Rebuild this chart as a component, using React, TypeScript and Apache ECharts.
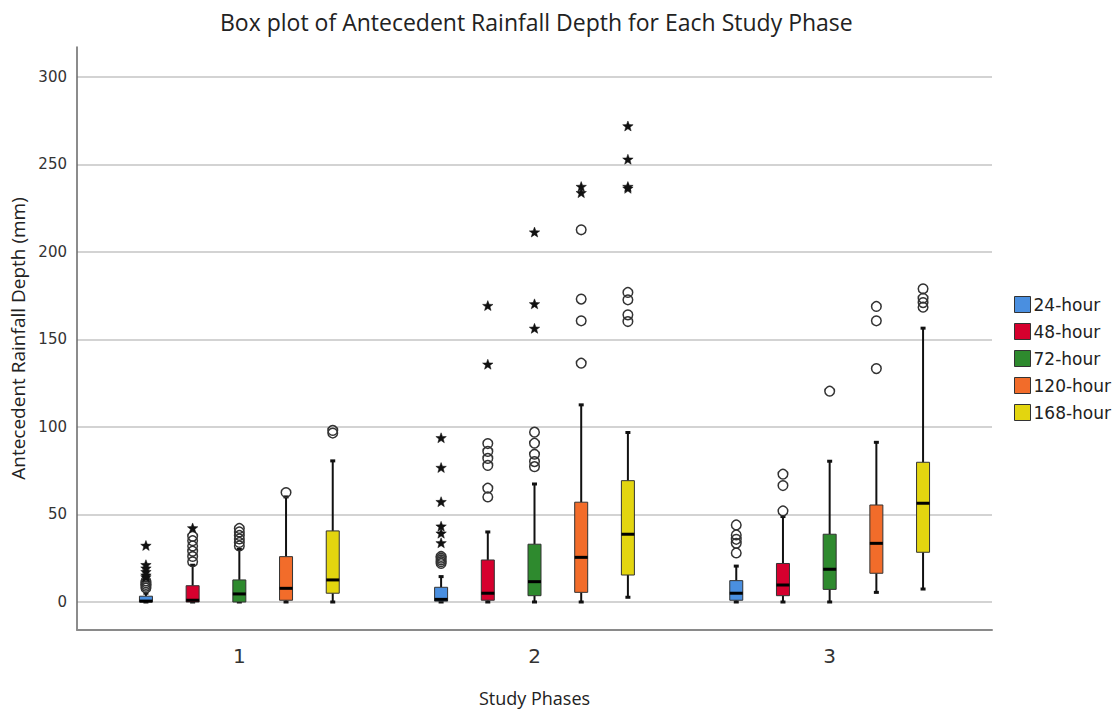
import React, { useEffect, useRef } from 'react';
import * as echarts from 'echarts';

const phases = [1, 2, 3];
const durations = ['24-hour', '48-hour', '72-hour', '120-hour', '168-hour'];
const colors = ['#4a8fe0', '#d6002e', '#2e8a2e', '#f26c2a', '#e3d50f'];

// [min, Q1, median, Q3, max] for phases 1, 2, 3
const box24 = [[0, 0, 0.5, 3.3, 5], [0, 0.5, 1.5, 8.4, 14.5], [0, 1, 5, 12.2, 20.5]];
const box48 = [[0, 0, 1, 9.3, 21], [0, 1, 5, 24, 40], [0, 3.6, 9.7, 22, 48.8]];
const box72 = [[0, 0, 4.6, 12.6, 30], [0, 3.6, 11.6, 33, 67.4], [0, 7.2, 18.7, 38.7, 80.4]];
const box120 = [[0, 1, 7.8, 25.9, 60], [0, 5.5, 25.5, 57, 112.6], [5.5, 16.4, 33.5, 55.4, 91.2]];
const box168 = [[0, 5, 12.6, 40.6, 80.6], [2.7, 15.4, 38.7, 69.3, 96.8], [7.4, 28.4, 56.4, 79.8, 156.4]];

// outliers (circles) per phase
const circles24 = [[8, 9, 10, 11, 12], [22, 23, 24, 25, 26], [28, 33.5, 35.8, 38.3, 44]];
const circles48 = [[23, 26, 29, 32, 35, 37.5], [60, 65, 78, 82, 86, 90.5], [52, 66.5, 73]];
const circles72 = [[32, 34, 36, 38, 40, 42], [77.3, 80.2, 84.4, 90.7, 97], [120.4]];
const circles120 = [[62.5], [136.4, 160.6, 173, 212.6], [133.3, 160.6, 168.8]];
const circles168 = [[96.5, 98], [160.2, 164, 172.6, 176.8], [168.4, 171, 173.5, 178.9]];

// extreme values (stars) per phase
const stars24 = [[14, 15, 17, 19, 21, 32], [33.5, 39, 43, 57, 76.5, 93.5], []];
const stars48 = [[42], [135.5, 169], []];
const stars72 = [[], [156, 170, 211], []];
const stars120 = [[], [233.5, 237], []];
const stars168 = [[], [236, 237, 252.6, 271.6], []];

const boxes = [box24, box48, box72, box120, box168];
const circles = [circles24, circles48, circles72, circles120, circles168];
const stars = [stars24, stars48, stars72, stars120, stars168];

const BOX_W = 13;
const SPACING = 46.7;

function starPoints(cx: number, cy: number, R: number, r: number) {
  const pts: number[][] = [];
  for (let k = 0; k < 10; k++) {
    const a = -Math.PI / 2 + (k * Math.PI) / 5;
    const rad = k % 2 === 0 ? R : r;
    pts.push([cx + rad * Math.cos(a), cy + rad * Math.sin(a)]);
  }
  return pts;
}

export default function App() {
  const ref = useRef<HTMLDivElement>(null);
  useEffect(() => {
    const chart = echarts.init(ref.current!, null, { renderer: 'svg' });
    const series: any[] = [];
    durations.forEach((name, i) => {
      const off = (i - 2) * SPACING;
      series.push({
        type: 'custom',
        name,
        itemStyle: { color: colors[i] },
        encode: { x: 0, y: [1, 2, 3, 4, 5] },
        data: phases.map((p, k) => [p, ...boxes[i][k]]),
        renderItem: (params: any, api: any) => {
          const p = api.value(0);
          const pt = (j: number) => api.coord([p, api.value(j)]);
          const c0 = pt(1);
          const cx = c0[0] + off;
          const yMin = c0[1];
          const yQ1 = pt(2)[1];
          const yMed = pt(3)[1];
          const yQ3 = pt(4)[1];
          const yMax = pt(5)[1];
          const ls = { stroke: '#111', lineWidth: 2 };
          return {
            type: 'group',
            children: [
              { type: 'line', shape: { x1: cx, y1: yMax, x2: cx, y2: yQ3 }, style: ls },
              { type: 'line', shape: { x1: cx, y1: yQ1, x2: cx, y2: yMin }, style: ls },
              { type: 'line', shape: { x1: cx - 2.5, y1: yMax, x2: cx + 2.5, y2: yMax }, style: { stroke: '#111', lineWidth: 3 } },
              { type: 'line', shape: { x1: cx - 2.5, y1: yMin, x2: cx + 2.5, y2: yMin }, style: { stroke: '#111', lineWidth: 3 } },
              {
                type: 'rect',
                shape: { x: cx - BOX_W / 2, y: yQ3, width: BOX_W, height: Math.max(yQ1 - yQ3, 1) },
                style: { fill: colors[i], stroke: '#333', lineWidth: 1 },
              },
              { type: 'line', shape: { x1: cx - BOX_W / 2, y1: yMed, x2: cx + BOX_W / 2, y2: yMed }, style: { stroke: '#000', lineWidth: 3 } },
            ],
          };
        },
      });
      const outData: number[][] = [];
      phases.forEach((p, k) => {
        circles[i][k].forEach((v) => outData.push([p, v, 0]));
        stars[i][k].forEach((v) => outData.push([p, v, 1]));
      });
      series.push({
        type: 'custom',
        name,
        itemStyle: { color: colors[i] },
        encode: { x: 0, y: 1 },
        data: outData,
        renderItem: (params: any, api: any) => {
          const c = api.coord([api.value(0), api.value(1)]);
          const cx = c[0] + off;
          const cy = c[1];
          if (api.value(2) === 1) {
            return {
              type: 'polygon',
              shape: { points: starPoints(cx, cy, 5.5, 2.3) },
              style: { fill: '#111', stroke: '#111', lineWidth: 0.5 },
            };
          }
          return {
            type: 'circle',
            shape: { cx, cy, r: 4.8 },
            style: { fill: 'none', stroke: '#333', lineWidth: 1.5 },
          };
        },
      });
    });

    chart.setOption({
      animation: false,
      backgroundColor: '#fff',
      title: {
        text: 'Box plot of Antecedent Rainfall Depth for Each Study Phase',
        left: 215,
        top: 5,
        textStyle: { fontFamily: 'Open Sans', fontSize: 23, fontWeight: 'normal', color: '#222' },
      },
      legend: {
        orient: 'vertical',
        left: 1009,
        top: 291,
        itemWidth: 16,
        itemHeight: 16,
        itemGap: 10,
        icon: 'rect',
        data: durations.map((n, i) => ({ name: n, itemStyle: { color: colors[i], borderColor: '#333', borderWidth: 1 } })),
        textStyle: { fontFamily: 'DejaVu Sans', fontSize: 17, color: '#222', padding: [0, 0, 0, -2] },
      },
      grid: { left: 77, right: 125, top: 47, bottom: 83, containLabel: false },
      xAxis: {
        type: 'value',
        min: 0.45,
        max: 3.55,
        axisLine: { show: true, onZero: false, lineStyle: { color: '#8a8a8a', width: 2 } },
        axisTick: { show: false },
        splitLine: { show: false },
        axisLabel: { customValues: phases, fontFamily: 'DejaVu Sans', fontSize: 20, color: '#333', margin: 16 },
        name: 'Study Phases',
        nameLocation: 'middle',
        nameGap: 59,
        nameTextStyle: { fontFamily: 'Open Sans', fontSize: 18, color: '#222' },
      },
      yAxis: {
        type: 'value',
        min: -16,
        max: 317,
        axisLine: { show: true, lineStyle: { color: '#666', width: 1.5 } },
        axisTick: { show: false },
        splitLine: { show: true, showMinLine: false, showMaxLine: false, lineStyle: { color: '#c4c4c4', width: 1.5 } },
        axisLabel: { showMinLabel: false, showMaxLabel: false, fontFamily: 'DejaVu Sans', fontSize: 15, color: '#333', margin: 10 },
        name: 'Antecedent Rainfall Depth (mm)',
        nameLocation: 'middle',
        nameGap: 50,
        nameTextStyle: { fontFamily: 'Open Sans', fontSize: 19, color: '#222' },
      },
      series,
    });
    return () => chart.dispose();
  }, []);
  return <div ref={ref} style={{ position: 'absolute', left: 0, top: 0, width: 1117, height: 713 }} />;
}
